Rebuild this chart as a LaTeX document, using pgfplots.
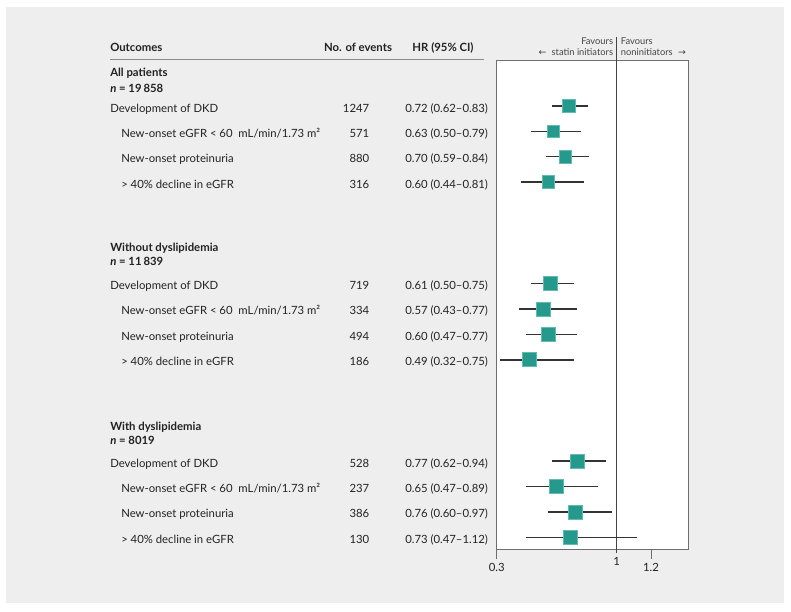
\documentclass[border=0pt]{standalone}
\usepackage{pgfplots}
\pgfplotsset{compat=1.18}
\usepackage{pgfplotstable}
\usepackage{fontspec}
\setmainfont{Lato}
\newfontfamily\arrowfont{DejaVu Sans}
\definecolor{bgpanel}{HTML}{EDEEED}
\definecolor{teal1}{HTML}{259A8C}
\definecolor{teal2}{HTML}{62BBB0}
\definecolor{txt}{HTML}{222222}
\definecolor{framec}{HTML}{6E6E6E}
\definecolor{refl}{HTML}{444444}
\definecolor{cil}{HTML}{333333}
\newcommand\bodyfont{\fontsize{8.5pt}{10pt}\selectfont}
\newcommand\smallfont{\fontsize{7pt}{8pt}\selectfont}

% row  HR  lower  upper
\pgfplotstableread{
row hr lo hi
0 0.72 0.62 0.83
1 0.63 0.50 0.79
2 0.70 0.59 0.84
3 0.60 0.44 0.81
}\groupA
\pgfplotstableread{
row hr lo hi
7 0.61 0.50 0.75
8 0.57 0.43 0.77
9 0.60 0.47 0.77
10 0.49 0.32 0.75
}\groupB
\pgfplotstableread{
row hr lo hi
14 0.77 0.62 0.94
15 0.65 0.47 0.89
16 0.76 0.60 0.97
17 0.73 0.47 1.12
}\groupC

\pgfplotsset{cibar/.style={only marks, mark=none, forget plot,
  error bars/.cd, x dir=both, x explicit, error mark=none,
  error bar style={line width=1.2pt, color=cil}}}

\begin{document}
\begin{tikzpicture}
\begin{scope}[x=0.75pt,y=-0.75pt]
\path[use as bounding box] (0,0) rectangle (791,611);
\fill[white] (0,0) rectangle (791,611);
\fill[bgpanel] (6,7) rectangle (784,603);
\end{scope}

\begin{axis}[
  at={(372.525pt,-411.75pt)}, anchor=south west,
  scale only axis, width=143.7pt, height=366.75pt,
  xmin=0.3, xmax=1.418, ymin=-1.81, ymax=17.46, y dir=reverse,
  clip=false,
  axis background/.style={fill=white},
  axis line style={framec, line width=0.6pt},
  ytick=\empty,
  xtick={0.3,1.2}, xticklabels={0.3,1.2},
  extra x ticks={1}, extra x tick labels={1},
  extra x tick style={major tick length=3pt},
  xtick pos=left, tick align=outside,
  major tick length=7.5pt,
  tick style={framec, line width=0.6pt},
  xticklabel style={font=\bodyfont, text=txt},
]
\draw[refl, line width=0.9pt] (axis cs:1,-2.72) -- (axis cs:1,17.62);
\addplot[cibar] table[x=hr, y=row,
        x error plus expr=\thisrow{hi}-\thisrow{hr},
        x error minus expr=\thisrow{hr}-\thisrow{lo}] {\groupA};
\addplot[cibar] table[x=hr, y=row,
        x error plus expr=\thisrow{hi}-\thisrow{hr},
        x error minus expr=\thisrow{hr}-\thisrow{lo}] {\groupB};
\addplot[cibar] table[x=hr, y=row,
        x error plus expr=\thisrow{hi}-\thisrow{hr},
        x error minus expr=\thisrow{hr}-\thisrow{lo}] {\groupC};
\addplot[only marks, mark=square*, mark size=4.76pt,
  mark options={fill=teal1, draw=teal2, line width=0.4pt}]
  table[x=hr, y=row] {\groupA};
\addplot[only marks, mark=square*, mark size=5.25pt,
  mark options={fill=teal1, draw=teal2, line width=0.4pt}]
  table[x=hr, y=row] {\groupB};
\addplot[only marks, mark=square*, mark size=5.25pt,
  mark options={fill=teal1, draw=teal2, line width=0.4pt}]
  table[x=hr, y=row] {\groupC};
\end{axis}

\begin{scope}[x=0.75pt,y=-0.75pt, every node/.style={inner sep=0pt, text=txt, font=\bodyfont}]
% header
\node[anchor=base west] at (110,51) {\bfseries Outcomes};
\node[anchor=base] at (358,51) {\bfseries No. of events};
\node[anchor=base] at (443,51) {\bfseries HR (95\% CI)};
\draw[framec!80, line width=0.75pt] (110,59.3) -- (484,59.3);
% favours
\node[anchor=base east, font=\smallfont, text=refl] at (613.3,44.3) {Favours};
\node[anchor=base east, font=\smallfont, text=refl] at (613.3,55.7) {{\arrowfont ←}\hspace{4pt}statin initiators};
\node[anchor=base west, font=\smallfont, text=refl] at (620.7,44.3) {Favours};
\node[anchor=base west, font=\smallfont, text=refl] at (620.7,55.7) {noninitiators\hspace{4pt}{\arrowfont →}};
% group headers
\node[anchor=base west] at (110,76.5) {\bfseries All patients};
\node[anchor=base west] at (110,92) {\bfseries\itshape n\upshape\ = 19\,858};
\node[anchor=base west] at (110,251) {\bfseries Without dyslipidemia};
\node[anchor=base west] at (110,265.5) {\bfseries\itshape n\upshape\ = 11\,839};
\node[anchor=base west] at (110,430.5) {\bfseries With dyslipidemia};
\node[anchor=base west] at (110,444.5) {\bfseries\itshape n\upshape\ = 8019};
% rows
\foreach \y/\ev/\hr in {106/1247/{0.72 (0.62--0.83)},283.59/719/{0.61 (0.50--0.75)},461.18/528/{0.77 (0.62--0.94)}}{
  \node[anchor=base west] at (110,\y+6) {Development of DKD};
  \node[anchor=base east] at (369.5,\y+6) {\ev};
  \node[anchor=base west] at (405,\y+6) {\hr};
}
\foreach \y/\ev/\hr in {131.37/571/{0.63 (0.50--0.79)},308.96/334/{0.57 (0.43--0.77)},486.55/237/{0.65 (0.47--0.89)}}{
  \node[anchor=base west] at (121,\y+6) {New-onset eGFR < 60\ \ mL/min/1.73 m²};
  \node[anchor=base east] at (369.5,\y+6) {\ev};
  \node[anchor=base west] at (405,\y+6) {\hr};
}
\foreach \y/\ev/\hr in {156.74/880/{0.70 (0.59--0.84)},334.33/494/{0.60 (0.47--0.77)},511.92/386/{0.76 (0.60--0.97)}}{
  \node[anchor=base west] at (121,\y+6) {New-onset proteinuria};
  \node[anchor=base east] at (369.5,\y+6) {\ev};
  \node[anchor=base west] at (405,\y+6) {\hr};
}
\foreach \y/\ev/\hr in {182.11/316/{0.60 (0.44--0.81)},359.70/186/{0.49 (0.32--0.75)},537.29/130/{0.73 (0.47--1.12)}}{
  \node[anchor=base west] at (121,\y+6) {> 40\% decline in eGFR};
  \node[anchor=base east] at (369.5,\y+6) {\ev};
  \node[anchor=base west] at (405,\y+6) {\hr};
}
\end{scope}
\end{tikzpicture}
\end{document}
